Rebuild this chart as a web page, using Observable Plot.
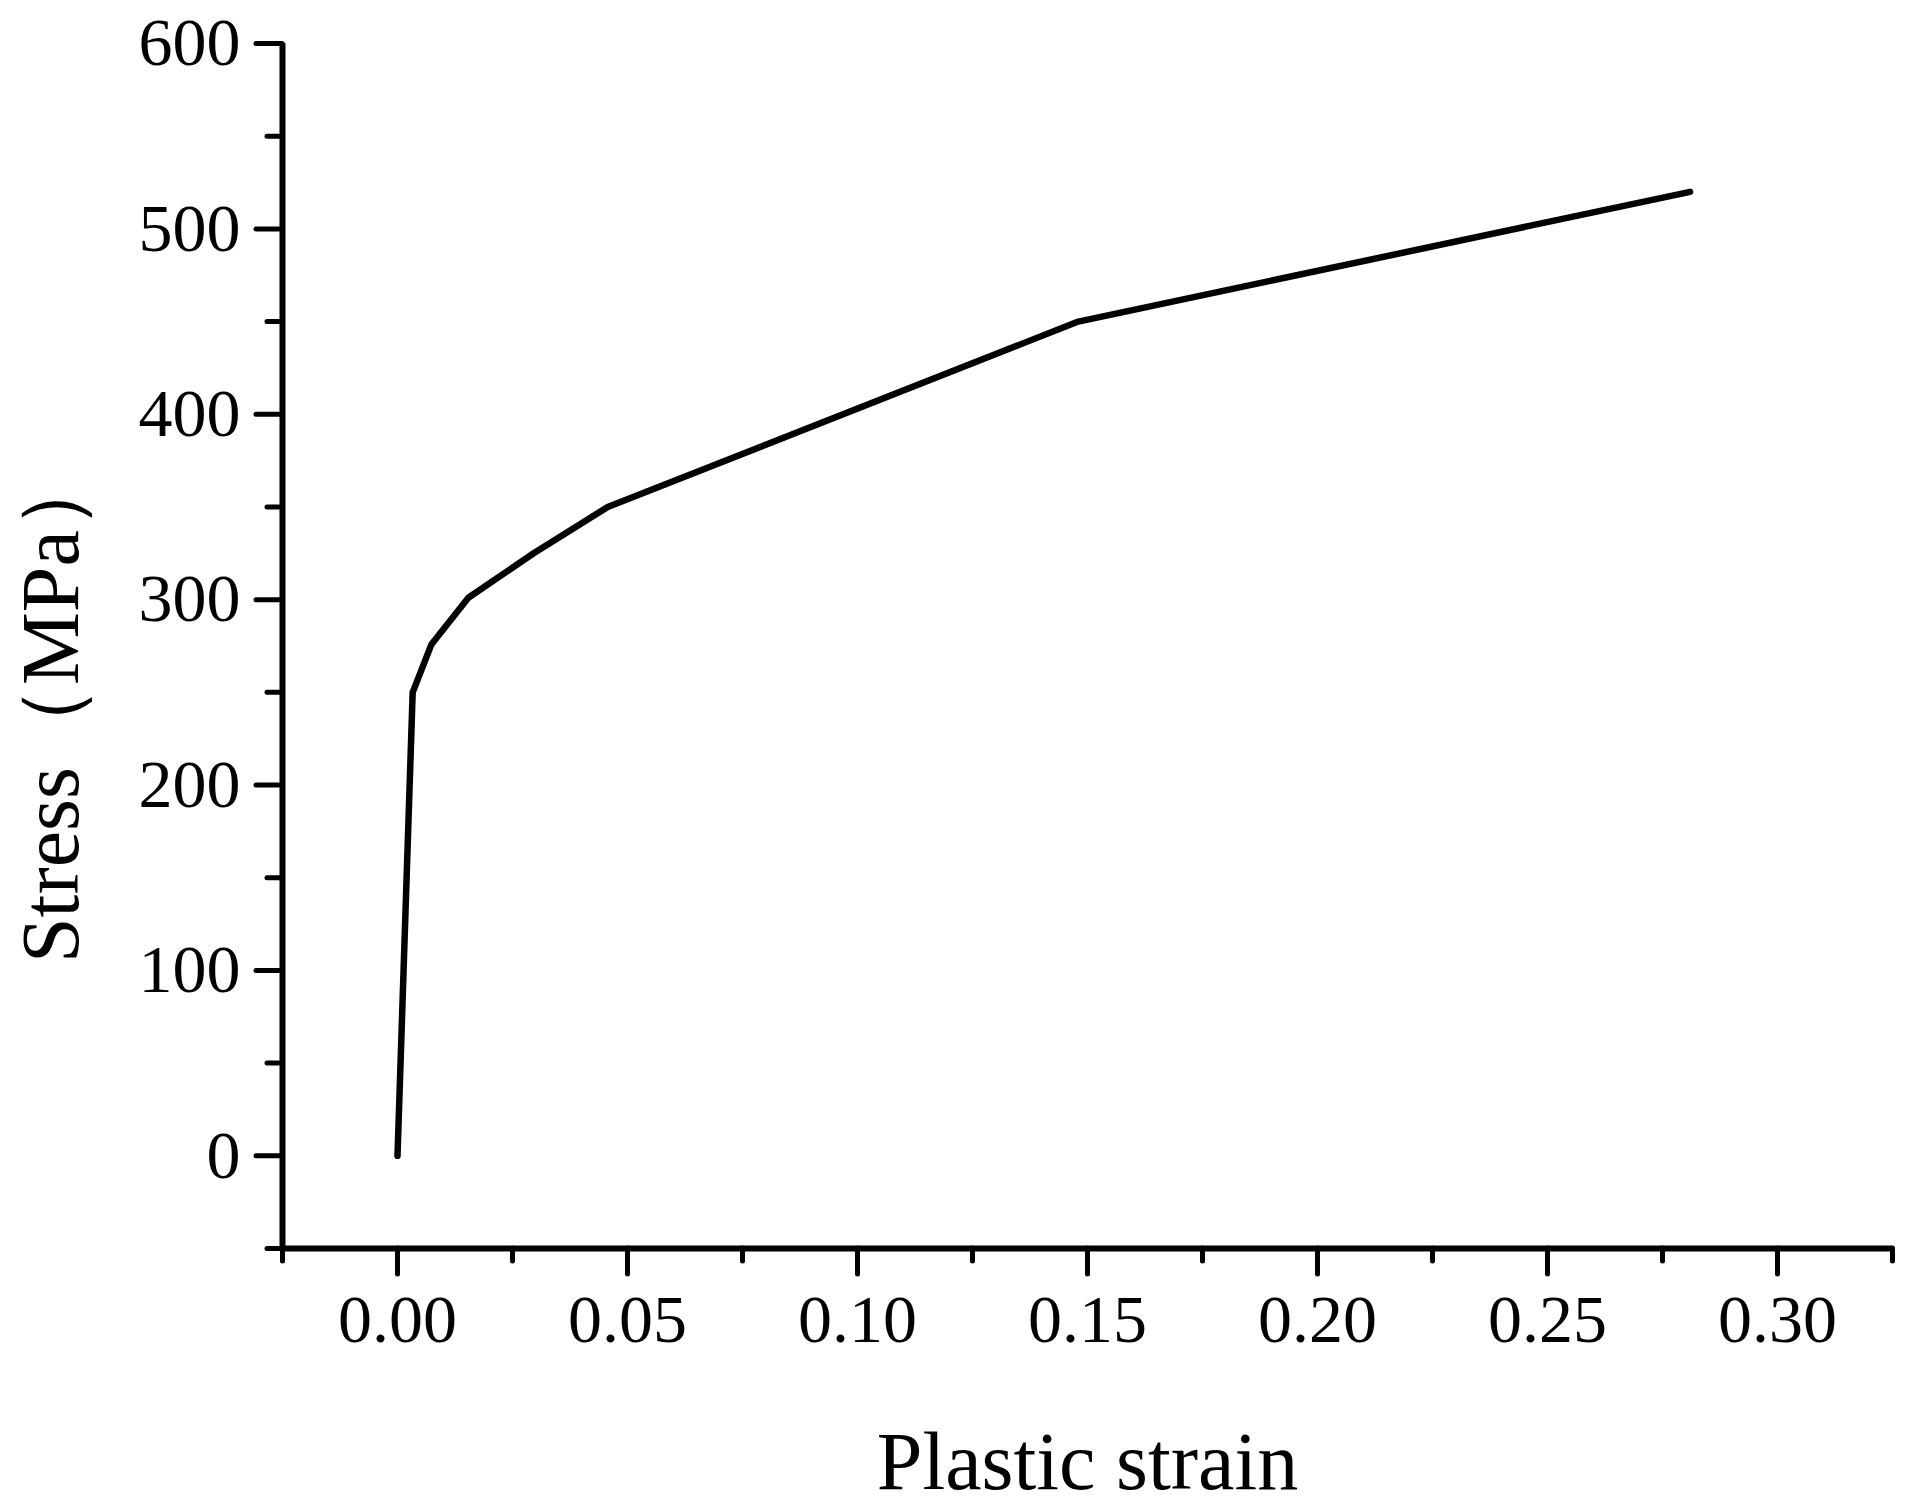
<!DOCTYPE html>
<html><head><meta charset="utf-8">
<script src="https://cdn.jsdelivr.net/npm/d3@7"></script>
<script src="https://cdn.jsdelivr.net/npm/@observablehq/plot@0.6"></script>
<style>html,body{margin:0;padding:0;background:#fff} svg{display:block}</style>
</head><body><div id="chart"></div>
<script>
const strain = [0, 0.0033, 0.0074, 0.0154, 0.0296, 0.0457, 0.148, 0.281];
const stress = [0, 250, 276, 301, 325, 350, 450, 520];
const xMajor = [0, 0.05, 0.10, 0.15, 0.20, 0.25, 0.30];
const xMinor = [-0.025, 0.025, 0.075, 0.125, 0.175, 0.225, 0.275, 0.325];
const yMajor = [0, 100, 200, 300, 400, 500, 600];
const yMinor = [-50, 50, 150, 250, 350, 450, 550];
const xTitle = "Plastic strain";
const yTitle = "Stress（MPa）";

const data = strain.map((x, i) => ({x, y: stress[i]}));
const serif = '"Liberation Serif","Times New Roman",serif';

const plot = Plot.plot({
  width: 1917, height: 1508,
  marginTop: 43, marginLeft: 282, marginRight: 25, marginBottom: 260,
  style: {fontFamily: serif, background: "white", color: "black"},
  x: {domain: [-0.025, 0.325]},
  y: {domain: [-50, 600]},
  marks: [
    Plot.ruleX([-0.025], {stroke: "black", strokeWidth: 6}),
    Plot.ruleY([-50], {stroke: "black", strokeWidth: 6}),
    Plot.axisX(xMajor, {tickSize: 26, tickPadding: 19, strokeWidth: 5, fontSize: 68, tickFormat: d3.format(".2f"), label: null, strokeLinecap: "round"}),
    Plot.axisX(xMinor, {tickSize: 13, tickFormat: () => "", strokeWidth: 5, label: null, strokeLinecap: "round"}),
    Plot.axisY(yMajor, {tickSize: 26, tickPadding: 16, strokeWidth: 5, fontSize: 68, tickFormat: d3.format("d"), label: null, strokeLinecap: "round"}),
    Plot.axisY(yMinor, {tickSize: 15, tickFormat: () => "", strokeWidth: 5, label: null, strokeLinecap: "round"}),
    Plot.line(data, {x: "x", y: "y", stroke: "black", strokeWidth: 6.5, strokeLinejoin: "round", strokeLinecap: "round"}),
    Plot.text([xTitle], {text: d => d, frameAnchor: "bottom", lineAnchor: "bottom", dy: 240, fontSize: 82, fill: "black"}),
    Plot.text([yTitle], {text: d => d, frameAnchor: "left", rotate: -90, textAnchor: "start", lineAnchor: "bottom", dx: -205, dy: 317, fontSize: 82, fill: "black"})
  ]
});
document.getElementById("chart").appendChild(plot);
</script>
</body></html>
